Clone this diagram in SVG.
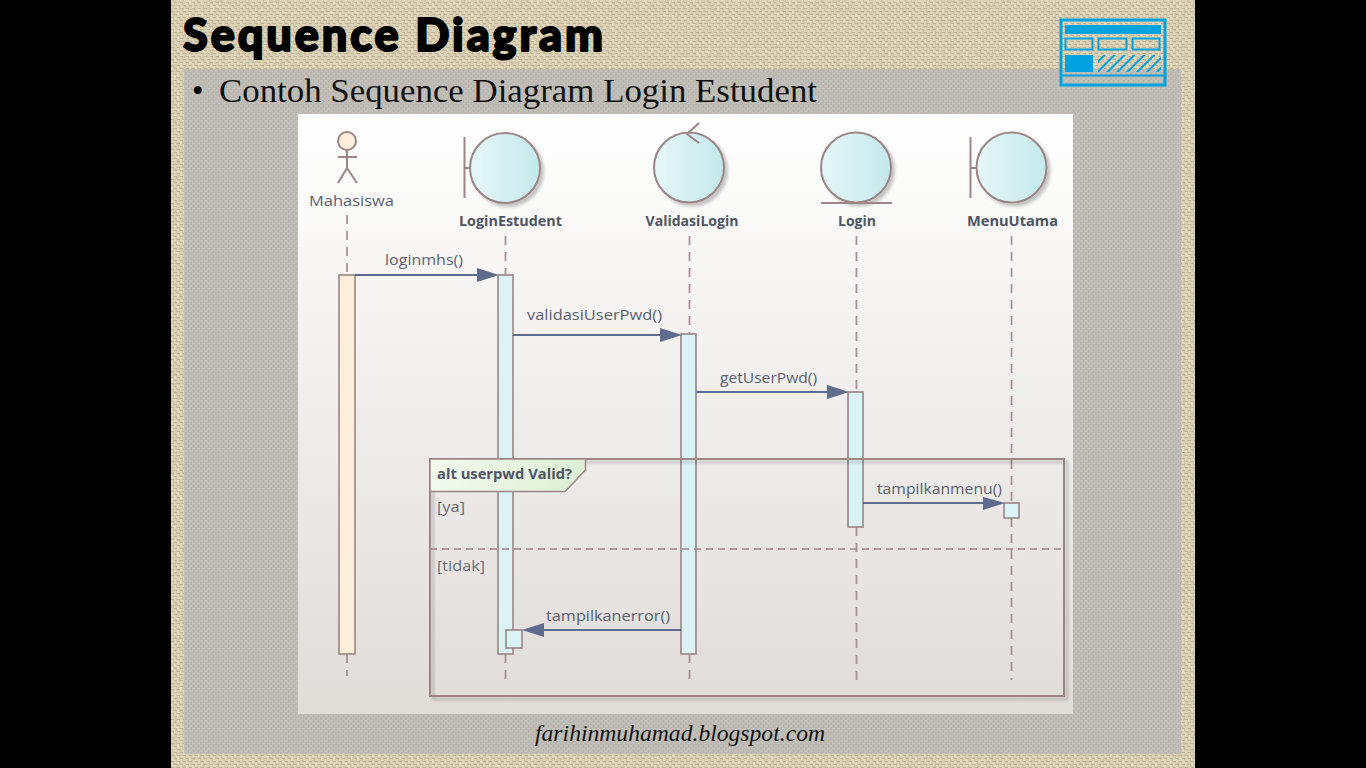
<svg xmlns="http://www.w3.org/2000/svg" width="1366" height="768" viewBox="0 0 1366 768">
<style>
.ln{stroke:#9b8585;stroke-width:2;fill:none}
.ball{stroke:#9b8585;stroke-width:2;fill:url(#ballG);filter:url(#sh)}
.act{fill:#dcf3f5;stroke:#9b8585;stroke-width:1.6}
.life{stroke:#a89292;stroke-width:1.8;stroke-dasharray:9 7;fill:none}
.msg{stroke:#5f6b8c;stroke-width:1.8;fill:none}
.head{fill:#5f6b8c}
.t{font-family:"Open Sans","Noto Sans",sans-serif;font-size:14px;fill:#5a6070}
.g{font-family:"Open Sans","Noto Sans",sans-serif;font-size:15px;fill:#6a6e78}
.b{font-family:"Open Sans","Noto Sans",sans-serif;font-size:14px;font-weight:700;fill:#4f5564}
.ic{fill:#00a3e0}
.ico{fill:none;stroke:#00a3e0;stroke-width:2}
</style>
<defs>
<pattern id="burlap" width="6" height="6" patternUnits="userSpaceOnUse">
<rect width="6" height="6" fill="#d8ccac"/>
<path d="M0 1h3M3 4h3M1 3v3M4 0v3" stroke="#efe7d2" stroke-width="1.1"/>
<path d="M0 2.500h3M3 5.500h3" stroke="#b8a988" stroke-width="0.8"/>
</pattern>
<pattern id="grayweave" width="5" height="5" patternUnits="userSpaceOnUse">
<rect width="5" height="5" fill="#bfbcb6"/>
<path d="M0 1h2.500M2.500 3.500h2.500" stroke="#c7c4bf" stroke-width="1"/>
<path d="M1 2.500v2.500M3.500 0v2.500" stroke="#b5b2ab" stroke-width="1"/>
</pattern>
<pattern id="hatch" width="7" height="7" patternUnits="userSpaceOnUse" patternTransform="rotate(45)">
<rect x="0" width="2" height="7" fill="#00a3e0"/>
</pattern>
<linearGradient id="bg" x1="0" y1="0" x2="0" y2="1">
<stop offset="0" stop-color="#ffffff"/><stop offset="1" stop-color="#e0dcd8"/>
</linearGradient>
<linearGradient id="ballG" x1="0" y1="0" x2="1" y2="0">
<stop offset="0" stop-color="#e6f6f8"/><stop offset="1" stop-color="#c4e9ec"/>
</linearGradient>
<linearGradient id="tagG" x1="0" y1="0" x2="1" y2="0">
<stop offset="0" stop-color="#f3faee"/><stop offset="1" stop-color="#dcefd4"/>
</linearGradient>
<filter id="sh" x="-20%" y="-20%" width="140%" height="140%">
<feDropShadow dx="3" dy="3" stdDeviation="1.5" flood-color="#000" flood-opacity="0.22"/>
</filter>
<filter id="noise" x="0" y="0" width="100%" height="100%">
<feTurbulence type="fractalNoise" baseFrequency="0.35" numOctaves="2" seed="4"/>
<feColorMatrix values="0 0 0 0 0.45  0 0 0 0 0.38  0 0 0 0 0.25  1.6 0 0 0 -0.55"/>
</filter>
</defs>

<rect width="1366" height="768" fill="#000"/>
<rect x="171" y="0" width="1024" height="768" fill="url(#burlap)"/>
<rect x="171" y="0" width="1024" height="768" filter="url(#noise)" opacity="0.55"/>
<rect x="184" y="69" width="997" height="685" fill="url(#grayweave)"/>

<text x="183" y="51" font-family="Lato,'Open Sans',sans-serif" font-size="45" font-weight="900" fill="#000" stroke="#000" stroke-width="2" stroke-linejoin="round" textLength="420" lengthAdjust="spacing">Sequence Diagram</text>

<g id="icon">
<rect x="1061" y="20" width="104" height="65" class="ico" style="stroke-width:3"/>
<rect x="1065" y="25" width="96" height="9" class="ic"/>
<rect x="1065.500" y="38.500" width="27" height="11" class="ico"/>
<rect x="1098.500" y="38.500" width="28" height="11" class="ico"/>
<rect x="1132.500" y="38.500" width="27" height="11" class="ico"/>
<rect x="1065" y="55" width="28" height="17" class="ic"/>
<rect x="1098" y="55" width="63" height="17" fill="url(#hatch)"/>
<path d="M1062 75.500H1164" class="ico"/>
</g>

<text x="192" y="102" font-family="'Liberation Serif',serif" font-size="33" fill="#000">•</text>
<text x="219" y="102" font-family="'Liberation Serif',serif" font-size="33" fill="#111" textLength="598" lengthAdjust="spacingAndGlyphs">Contoh Sequence Diagram Login Estudent</text>

<rect x="298" y="114" width="775" height="600" fill="url(#bg)"/>

<g id="lifelines">
<path class="life" d="M347 215V275M347 654V676"/>
<path class="life" d="M505.500 236V275M505.500 654V680"/>
<path class="life" d="M689.500 236V334M689.500 654V680"/>
<path class="life" d="M856.500 236V392M856.500 527V680"/>
<path class="life" d="M1011.500 236V502M1011.500 518V680"/>
</g>

<g id="Mahasiswa">
<circle cx="347" cy="141" r="9" fill="#fdeedb" stroke="#9b8585" stroke-width="2"/>
<path class="ln" d="M347 150V168M338 157H357M347 168L338 183M347 168L357 183"/>
<text x="351.500" y="206" text-anchor="middle" class="t" textLength="85" lengthAdjust="spacingAndGlyphs">Mahasiswa</text>
<rect x="339" y="275" width="16" height="379" fill="#fdeedb" stroke="#9b8585" stroke-width="1.6"/>
</g>

<g id="LoginEstudent">
<path class="ln" d="M464.500 137V198M464.500 168H471"/>
<circle class="ball" cx="505" cy="168" r="35"/>
<text x="510.500" y="226" text-anchor="middle" class="b" textLength="103" lengthAdjust="spacingAndGlyphs">LoginEstudent</text>
<rect class="act" x="498" y="275" width="15" height="379"/>
<rect class="act" x="506" y="630" width="16" height="18"/>
</g>

<g id="ValidasiLogin">
<circle class="ball" cx="689" cy="167.500" r="35"/>
<path class="ln" d="M699 123L687 134L699 143"/>
<text x="692" y="226" text-anchor="middle" class="b" textLength="93" lengthAdjust="spacingAndGlyphs">ValidasiLogin</text>
<rect class="act" x="681" y="334" width="15" height="320"/>
</g>

<g id="Login">
<circle class="ball" cx="856" cy="167.500" r="35"/>
<path class="ln" d="M821 203H892"/>
<text x="857" y="226" text-anchor="middle" class="b" textLength="38" lengthAdjust="spacingAndGlyphs">Login</text>
<rect class="act" x="848" y="392" width="15" height="135"/>
</g>

<g id="MenuUtama">
<path class="ln" d="M970.500 137V198M970.500 168H977"/>
<circle class="ball" cx="1011.500" cy="167.500" r="35"/>
<text x="1012.500" y="226" text-anchor="middle" class="b" textLength="91" lengthAdjust="spacingAndGlyphs">MenuUtama</text>
<rect class="act" x="1004" y="503" width="15" height="15"/>
</g>

<g id="fragment">
<rect x="430" y="459" width="634" height="237" fill="none" stroke="#9b8585" stroke-width="2" filter="url(#sh)"/>
<path d="M430 549H1064" stroke="#9b8585" stroke-width="1.5" stroke-dasharray="7 5" fill="none"/>
<path d="M430 459H585.500V470L565 491.500H430Z" fill="url(#tagG)" stroke="#9b8585" stroke-width="1.5"/>
<text class="b" x="437" y="479" textLength="135" lengthAdjust="spacingAndGlyphs">alt userpwd Valid?</text>
<text class="g" x="437" y="512" textLength="28" lengthAdjust="spacingAndGlyphs">[ya]</text>
<text class="g" x="437" y="571" textLength="48" lengthAdjust="spacingAndGlyphs">[tidak]</text>
</g>

<g id="connectors">
<path class="msg" d="M355 275H480"/><path class="head" d="M477 268L499 275L477 282Z"/>
<path class="msg" d="M513 335H663"/><path class="head" d="M660 328L682 335L660 342Z"/>
<path class="msg" d="M696 392H830"/><path class="head" d="M827 385L849 392L827 399Z"/>
<path class="msg" d="M863 503H986"/><path class="head" d="M983 497L1005 503L983 510Z"/>
<path class="msg" d="M681 630H540"/><path class="head" d="M544 623L522 630L544 637Z"/>
</g>
<g id="labels">
<text class="t" x="385" y="265" textLength="78" lengthAdjust="spacingAndGlyphs">loginmhs()</text>
<text class="t" x="527" y="320" textLength="135" lengthAdjust="spacingAndGlyphs">validasiUserPwd()</text>
<text class="t" x="720" y="383" textLength="97" lengthAdjust="spacingAndGlyphs">getUserPwd()</text>
<text class="t" x="877" y="494" textLength="125" lengthAdjust="spacingAndGlyphs">tampilkanmenu()</text>
<text class="t" x="546" y="621" textLength="124" lengthAdjust="spacingAndGlyphs">tampilkanerror()</text>
</g>

<text x="535" y="741" font-family="'Liberation Serif',serif" font-style="italic" font-size="24" fill="#111" textLength="290" lengthAdjust="spacingAndGlyphs">farihinmuhamad.blogspot.com</text>
</svg>
